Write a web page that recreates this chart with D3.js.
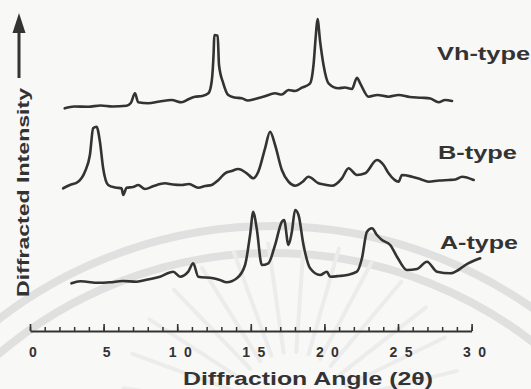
<!DOCTYPE html>
<html>
<head>
<meta charset="utf-8">
<script src="https://cdn.jsdelivr.net/npm/d3@7"></script>
<style>
  html, body { margin: 0; padding: 0; background: #f8f8f7; }
  svg { display: block; }
  text { font-family: "Liberation Sans", Arial, Helvetica, sans-serif; font-weight: bold; fill: #333; }
</style>
</head>
<body>
<svg id="chart" width="531" height="389"></svg>
<script>
const vhType = [[2.36,222.7],[3.0,224.5],[3.95,224.3],[4.8,225.5],[5.6,224.5],[6.56,225.3],[6.85,228],[7.13,237.7],[7.35,228.7],[8.03,227.7],[8.8,229.5],[9.62,231],[10.3,228.7],[10.8,232],[11.21,234.3],[11.7,235],[12.12,237.7],[12.34,249.3],[12.48,280],[12.52,296],[12.75,295.3],[12.84,266],[13.13,247.7],[13.47,236],[13.9,233.5],[14.39,232.7],[14.8,230.5],[15.29,232],[15.9,234.5],[16.65,237.7],[17.1,236.5],[17.56,241],[18.0,240],[18.47,243.3],[19.03,247.7],[19.26,266],[19.42,296],[19.53,312],[19.71,289.3],[19.94,266],[20.28,247.7],[20.96,242.7],[21.4,243.5],[21.87,242],[22.21,253.3],[22.43,247.7],[23.0,234.3],[23.6,236],[24.36,234.3],[25.04,236],[25.8,234],[26.63,233.3],[27.2,232.5],[27.76,228.7],[28.2,231],[28.67,230]];
const bType = [[2.25,142.7],[2.71,146],[3.27,149.3],[3.73,159.3],[4.07,176],[4.29,202.7],[4.52,204.3],[4.75,189.3],[4.97,162.7],[5.31,146],[5.8,143.5],[6.22,142.7],[6.33,136],[6.56,143.3],[7.0,144],[7.35,146],[7.81,142],[8.4,145],[9.17,147.7],[9.7,146.5],[10.3,146],[10.8,147],[11.43,143.3],[11.9,145],[12.34,146],[12.8,151],[13.25,157.7],[13.7,160],[14.15,162],[14.73,157.7],[15.17,152.7],[15.51,159.3],[15.97,182.7],[16.31,199.3],[16.65,186],[17.11,161],[17.56,149.3],[18.01,145.3],[18.5,149],[18.92,154.3],[19.6,147.7],[20.0,146.5],[20.51,145.3],[21.19,152.7],[21.64,162.7],[22.21,156],[22.77,157.7],[23.57,171],[24.02,166],[24.36,157.7],[25.04,149.3],[25.27,156],[25.95,154.3],[26.5,152],[27.08,149.3],[27.8,150.5],[28.44,151],[28.9,151.5],[29.35,154.3],[30.14,151]];
const aType = [[2.82,47.7],[3.4,49.8],[3.84,49.3],[4.6,48.2],[5.43,48.7],[6.3,50],[7.24,49.3],[8.0,51.5],[8.83,54.3],[9.73,59.3],[10.19,54.3],[10.75,59.3],[11.09,67.7],[11.43,54.3],[12.45,52.7],[12.9,51],[13.36,48.7],[14.05,52.7],[14.61,66],[14.95,96],[15.17,119.3],[15.4,102.7],[15.75,66],[16.19,67.7],[16.65,86],[17.11,109.3],[17.26,111],[17.56,86],[17.79,99.3],[18.01,121],[18.24,116],[18.58,86],[19.03,62.7],[19.71,56],[20.17,59.3],[20.39,54.3],[21.0,55],[21.53,56],[22.21,59.3],[22.55,72.7],[22.89,99.3],[23.23,102.7],[23.57,96],[23.91,91],[24.47,86],[24.93,74.3],[25.61,61],[26.29,62],[26.97,69.3],[27.65,59.3],[28.56,57.7],[29.1,61],[29.58,66],[30.58,72.7]];

const seriesNames = ['Vh-type', 'B-type', 'A-type'];
const seriesLabelLevel = [271, 172, 82];
const majorTicks = [0, 5, 10, 15, 20, 25, 30];
const minorTicks = d3.range(0, 31, 1);

const svg = d3.select('#chart');

// faint watermark behind the plot (scan artefact)
const wm = svg.append('g').attr('fill', 'none').attr('stroke', '#e0e0e0');
wm.selectAll('circle')
  .data([450, 423])
  .enter()
  .append('circle')
  .attr('cx', 273).attr('cy', 676)
  .attr('r', r => r)
  .attr('stroke-width', 8);
wm.selectAll('line')
  .data([-82, -70, -57, -44, -32, -20, -8, 4, 16, 28, 40, 52, 64, 76])
  .enter()
  .append('line')
  .attr('x1', a => 292 + 60 * Math.sin(a * Math.PI / 180))
  .attr('y1', a => 412 - 60 * Math.cos(a * Math.PI / 180))
  .attr('x2', a => 292 + 170 * Math.sin(a * Math.PI / 180))
  .attr('y2', a => 412 - 170 * Math.cos(a * Math.PI / 180))
  .attr('stroke', '#ececec')
  .attr('stroke-width', 4)
  .attr('stroke-linecap', 'round');

const x = d3.scaleLinear().domain([0, 30]).range([30, 471.6]);
const y = d3.scaleLinear().domain([0, 330]).range([331, 1]);

const line = d3.line()
  .curve(d3.curveMonotoneX)
  .x(d => x(d[0]))
  .y(d => y(d[1]));

svg.append('g')
  .selectAll('path')
  .data([vhType, bType, aType])
  .enter()
  .append('path')
  .attr('d', line)
  .attr('fill', 'none')
  .attr('stroke', '#333')
  .attr('stroke-width', 2.6)
  .attr('stroke-linejoin', 'round')
  .attr('stroke-linecap', 'round');

// series labels
const labelWidths = [93, 79, 78];
svg.append('g')
  .selectAll('text')
  .data(seriesNames)
  .enter()
  .append('text')
  .attr('x', (d, i) => [437, 438, 440][i])
  .attr('y', (d, i) => y(seriesLabelLevel[i]))
  .attr('font-size', 19)
  .attr('textLength', (d, i) => labelWidths[i])
  .attr('lengthAdjust', 'spacingAndGlyphs')
  .text(d => d);

// x axis
const axisY = y(0);
svg.append('g')
  .attr('transform', `translate(0,${axisY})`)
  .call(d3.axisBottom(x).tickValues(minorTicks).tickSize(-4).tickSizeOuter(0).tickFormat(''))
  .call(g => g.select('.domain').remove())
  .call(g => g.selectAll('line').attr('stroke', '#333').attr('stroke-width', 1.5));

const xAxis = svg.append('g')
  .attr('transform', `translate(0,${axisY})`)
  .call(d3.axisBottom(x).tickValues(majorTicks).tickSize(-7).tickSizeOuter(0).tickPadding(16))
  .attr('font-family', null)
  .attr('font-size', null);
xAxis.select('.domain').attr('stroke', '#333').attr('stroke-width', 2);
xAxis.selectAll('line').attr('stroke', '#333').attr('stroke-width', 1.6);
xAxis.selectAll('text')
  .attr('font-size', 14)
  .attr('fill', '#333')
  .attr('dx', 2.5)
  .each(function(d) {
    if (String(d).length > 1) d3.select(this).attr('textLength', 23).attr('lengthAdjust', 'spacing');
  });

svg.append('text')
  .attr('x', 183)
  .attr('y', 385)
  .attr('font-size', 18)
  .attr('textLength', 250)
  .attr('lengthAdjust', 'spacingAndGlyphs')
  .text('Diffraction Angle (2θ)');

// y label and arrow
svg.append('text')
  .attr('transform', 'translate(29,297) rotate(-90)')
  .attr('font-size', 17)
  .attr('textLength', 209)
  .attr('lengthAdjust', 'spacingAndGlyphs')
  .text('Diffracted Intensity');

svg.append('line')
  .attr('x1', 19).attr('x2', 19)
  .attr('y1', 78).attr('y2', 30)
  .attr('stroke', '#333')
  .attr('stroke-width', 3);
svg.append('path')
  .attr('d', 'M19,13 L12.5,33 L25.5,33 Z')
  .attr('fill', '#333');
</script>
</body>
</html>
